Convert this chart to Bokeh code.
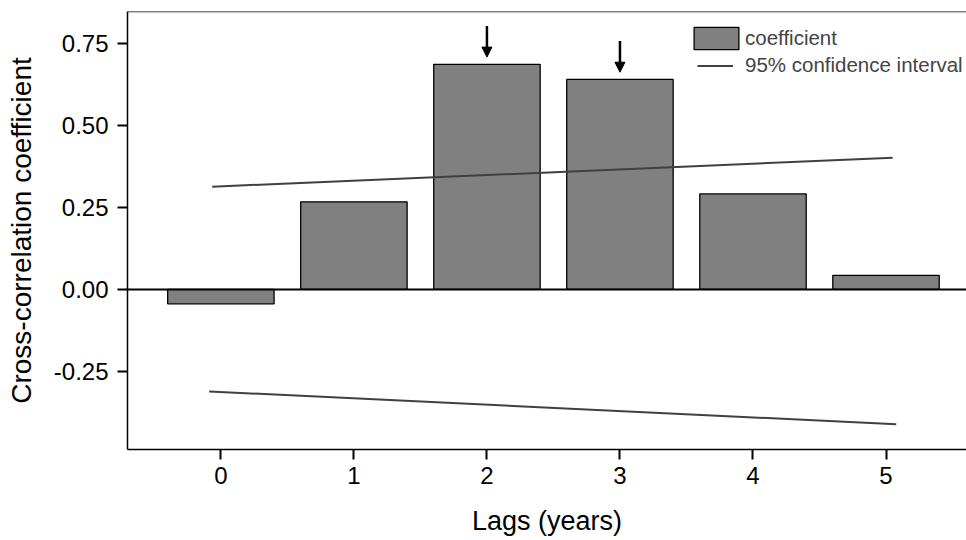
from bokeh.plotting import figure
from bokeh.models import (ColumnDataSource, Span, Legend, LegendItem, FixedTicker,
                          NumeralTickFormatter, Arrow, NormalHead, Range1d)
from bokeh.embed import file_html
from bokeh.resources import INLINE

# ---- data ----
lags = [0, 1, 2, 3, 4, 5]
coef = [-0.044, 0.267, 0.686, 0.640, 0.291, 0.043]
ci_x = [-0.065, 5.05]
ci_upper = [0.313, 0.401]
ci_lower_x = [-0.088, 5.077]
ci_lower = [-0.311, -0.411]
marked_lags = [2, 3]
y_ticks = [-0.25, 0.0, 0.25, 0.50, 0.75]
x_ticks = [0, 1, 2, 3, 4, 5]

FONT = "Liberation Sans"

p = figure(width=966, height=540, output_backend="svg", toolbar_location=None,
           x_range=Range1d(-0.702, 5.605), y_range=Range1d(-0.488, 0.847),
           min_border_left=127, min_border_right=0, min_border_top=11,
           min_border_bottom=91)
p.outline_line_color = None
p.xgrid.visible = False
p.ygrid.visible = False
p.background_fill_color = "white"
p.border_fill_color = "white"

src = ColumnDataSource(dict(x=lags, top=coef))
bars = p.vbar(x="x", top="top", bottom=0, width=0.8, source=src,
              fill_color="#808080", line_color="black", line_width=1.3)

l1 = p.line(ci_x, ci_upper, line_color="#404040", line_width=2)
p.line(ci_lower_x, ci_lower, line_color="#404040", line_width=2)

p.add_layout(Span(location=0, dimension="width", line_color="black", line_width=2))
p.add_layout(Span(location=p.y_range.end, dimension="width", line_color="black", line_width=1.5))

for lag in marked_lags:
    tip = coef[lag] + 0.022
    p.add_layout(Arrow(end=NormalHead(size=10, fill_color="black", line_color="black"),
                       x_start=lag, y_start=tip + 0.095, x_end=lag, y_end=tip,
                       line_color="black", line_width=2.5))

# axes
for ax in (p.xaxis[0], p.yaxis[0]):
    ax.axis_line_width = 1.5
    ax.axis_line_color = "black"
    ax.major_tick_line_width = 2
    ax.major_tick_line_color = "black"
    ax.major_tick_out = 10
    ax.major_tick_in = 0
    ax.minor_tick_line_color = None
    ax.major_label_text_font = FONT
    ax.major_label_text_font_size = "24px"
    ax.major_label_text_color = "black"
    ax.axis_label_text_font = FONT
    ax.axis_label_text_font_style = "normal"
    ax.axis_label_text_color = "black"

p.xaxis[0].axis_label_text_font_size = "27px"
p.yaxis[0].axis_label_text_font_size = "28px"
p.xaxis[0].ticker = FixedTicker(ticks=x_ticks)
p.yaxis[0].ticker = FixedTicker(ticks=y_ticks)
p.yaxis[0].formatter = NumeralTickFormatter(format="0.00")
p.xaxis[0].axis_label = "Lags (years)"
p.yaxis[0].axis_label = "Cross-correlation coefficient"
p.xaxis[0].major_label_standoff = 7
p.yaxis[0].major_label_standoff = 9
p.xaxis[0].axis_label_standoff = 19
p.yaxis[0].axis_label_standoff = 14

leg1 = Legend(items=[LegendItem(label="coefficient", renderers=[bars])],
              location=(561, 397), glyph_width=56, glyph_height=28, label_standoff=1,
              padding=0, margin=0, spacing=0, border_line_color=None,
              background_fill_alpha=0, label_text_font=FONT, label_text_font_size="20.5px")
leg2 = Legend(items=[LegendItem(label="95% confidence interval", renderers=[l1])],
              location=(570, 372), glyph_width=36, glyph_height=23, label_standoff=12,
              padding=0, margin=0, spacing=0, border_line_color=None,
              background_fill_alpha=0, label_text_font=FONT, label_text_font_size="20.5px")
p.add_layout(leg1, "center")
p.add_layout(leg2, "center")

open("out.html", "w").write(file_html(p, INLINE))
